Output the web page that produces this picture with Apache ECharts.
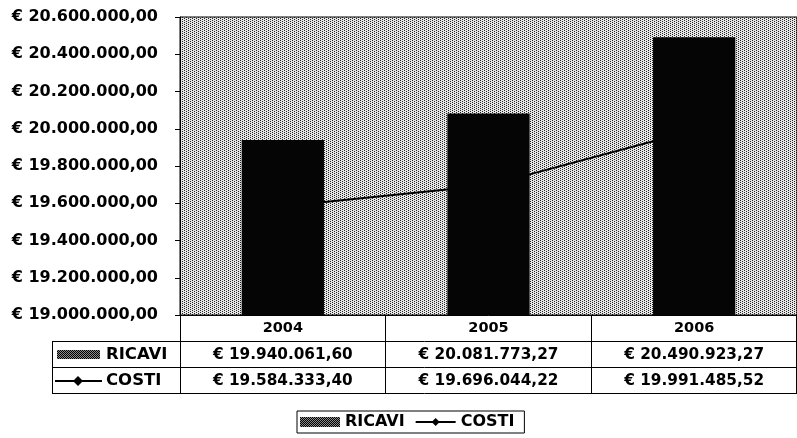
<!DOCTYPE html>
<html>
<head>
<meta charset="utf-8">
<script src="https://cdn.jsdelivr.net/npm/echarts@6/dist/echarts.min.js"></script>
<style>html,body{margin:0;padding:0;background:#fff}#c{width:797px;height:438px}</style>
</head>
<body>
<div id="c"></div>
<script>
const categories = ['2004', '2005', '2006'];
const ricavi = [19940061.60, 20081773.27, 20490923.27];
const costi = [19584333.40, 19696044.22, 19991485.52];
const seriesNames = ['RICAVI', 'COSTI'];
const yMin = 19000000, yMax = 20600000, yStep = 200000;

function fmtEuro(v) {
  const s = v.toFixed(2).split('.');
  const intPart = s[0].replace(/\B(?=(\d{3})+(?!\d))/g, '.');
  return '€ ' + intPart + ',' + s[1];
}

function makeDots(dark, light) {
  const c = document.createElement('canvas');
  c.width = 4; c.height = 4;
  const g = c.getContext('2d');
  g.fillStyle = light; g.fillRect(0, 0, 4, 4);
  g.fillStyle = dark;
  [[0, 0], [2, 1], [0, 2], [2, 3]].forEach(p => g.fillRect(p[0], p[1], 1, 1));
  return c;
}
function makeChecker(dark, light) {
  const c = document.createElement('canvas');
  c.width = 2; c.height = 2;
  const g = c.getContext('2d');
  g.fillStyle = light; g.fillRect(0, 0, 2, 2);
  g.fillStyle = dark; g.fillRect(0, 0, 1, 1); g.fillRect(1, 1, 1, 1);
  return c;
}
const bgPattern = { image: makeDots('#222222', '#e6e6e6'), repeat: 'repeat' };
const swatchPattern = { image: makeChecker('#000000', '#8a8a8a'), repeat: 'repeat' };

const FONT = 'DejaVu Sans';
const chart = echarts.init(document.getElementById('c'), null, { renderer: 'canvas' });

const option = {
  animation: false,
  backgroundColor: '#fff',
  textStyle: { fontFamily: FONT, color: '#000' },
  grid: {
    left: 180, right: 0, top: 17, bottom: 123,
    show: true, backgroundColor: bgPattern, borderColor: '#000', borderWidth: 1
  },
  legend: {
    data: [
      { name: 'RICAVI', icon: 'rect', itemStyle: { color: swatchPattern } },
      { name: 'COSTI' }
    ],
    orient: 'horizontal',
    left: 297, top: 411,
    padding: [3, 10, 3, 3],
    itemGap: 10, itemWidth: 40, itemHeight: 10,
    borderColor: '#000', borderWidth: 1,
    textStyle: { fontFamily: FONT, fontSize: 16, fontWeight: 'bold', color: '#000' }
  },
  xAxis: {
    type: 'category', data: categories,
    axisLine: { show: true, lineStyle: { color: '#000', width: 1 } },
    axisTick: { show: true, length: 78, alignWithLabel: false, lineStyle: { color: '#000' } },
    axisLabel: { fontFamily: FONT, fontSize: 14.5, fontWeight: 'bold', color: '#000', margin: 6 }
  },
  yAxis: {
    type: 'value', min: yMin, max: yMax, interval: yStep,
    axisLine: { show: true, lineStyle: { color: '#000' } },
    axisTick: { show: true, length: 5, lineStyle: { color: '#000' } },
    splitLine: { show: false },
    axisLabel: { fontFamily: FONT, fontSize: 16, fontWeight: 'bold', color: '#000', margin: 22,
      formatter: v => fmtEuro(v) }
  },
  series: [
    { name: seriesNames[0], type: 'bar', data: ricavi, barWidth: '40%', z: 3,
      itemStyle: { color: '#050505' } },
    { name: seriesNames[1], type: 'line', data: costi, symbol: 'diamond', symbolSize: 10, z: 1,
      itemStyle: { color: '#000' }, lineStyle: { color: '#000', width: 2 } }
  ]
};
chart.setOption(option);

// Data table below the plot, positioned from the axis scale
function buildTable() {
  const y0 = 438 - 123;           // plot bottom
  const y1 = 341, y2 = 367, y3 = 393;
  const xRight = 797, labelLeft = 52;
  const els = [];
  const line = (x1, ya, x2, yb) => els.push({ type: 'line', shape: { x1, y1: ya, x2, y2: yb }, style: { stroke: '#000', lineWidth: 1 }, silent: true });
  line(labelLeft, y1 + 0.5, xRight, y1 + 0.5);
  line(labelLeft, y2 + 0.5, xRight, y2 + 0.5);
  line(labelLeft, y3 + 0.5, xRight, y3 + 0.5);
  line(labelLeft + 0.5, y1, labelLeft + 0.5, y3);
  line(xRight - 0.5, y0, xRight - 0.5, y3);
  const tf = { fontFamily: FONT, fontSize: 15.3, fontWeight: 'bold', fill: '#000', align: 'center', verticalAlign: 'middle' };
  categories.forEach((c, i) => {
    const cx = chart.convertToPixel({ xAxisIndex: 0 }, c);
    els.push({ type: 'text', x: cx, y: (y1 + y2) / 2 + 1, style: Object.assign({ text: fmtEuro(ricavi[i]) }, tf), silent: true });
    els.push({ type: 'text', x: cx, y: (y2 + y3) / 2 + 1, style: Object.assign({ text: fmtEuro(costi[i]) }, tf), silent: true });
  });
  // row labels (legend keys inside the table)
  const lf = { fontFamily: FONT, fontSize: 16.5, fontWeight: 'bold', fill: '#000', align: 'left', verticalAlign: 'middle' };
  els.push({ type: 'rect', shape: { x: 57, y: y1 + 9, width: 43, height: 9 }, style: { fill: swatchPattern }, silent: true });
  els.push({ type: 'text', x: 106, y: (y1 + y2) / 2 + 1, style: Object.assign({ text: seriesNames[0] }, lf), silent: true });
  const ly = (y2 + y3) / 2 + 1;
  els.push({ type: 'line', shape: { x1: 55, y1: ly, x2: 102, y2: ly }, style: { stroke: '#000', lineWidth: 2 }, silent: true });
  els.push({ type: 'polygon', shape: { points: [[78, ly - 5], [83, ly], [78, ly + 5], [73, ly]] }, style: { fill: '#000' }, silent: true });
  els.push({ type: 'text', x: 106, y: ly, style: Object.assign({ text: seriesNames[1] }, lf), silent: true });
  chart.setOption({ graphic: { elements: els } });
}
buildTable();
</script>
</body>
</html>
